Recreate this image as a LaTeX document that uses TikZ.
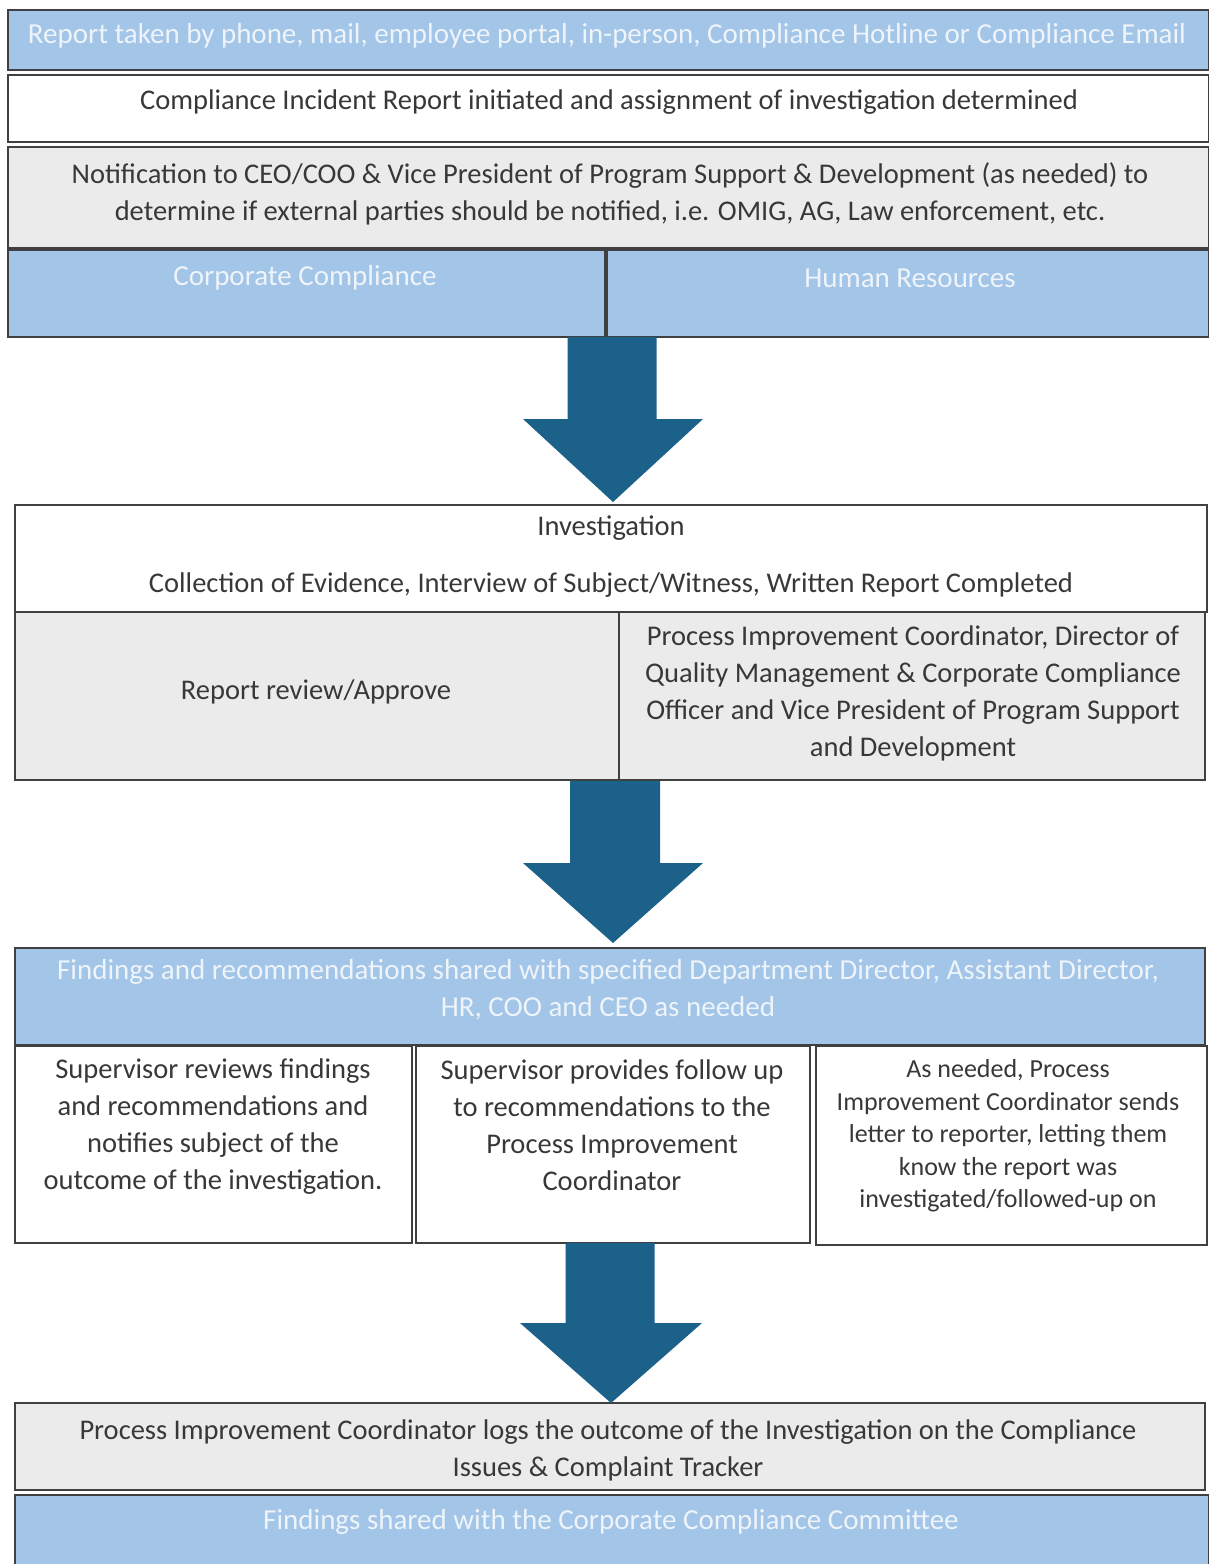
\documentclass[tikz,border=0pt]{standalone}
\usepackage{fontspec}
\setmainfont{Carlito}
\usetikzlibrary{calc}
\definecolor{bluefill}{HTML}{A2C5E8}
\definecolor{grayfill}{HTML}{EBEBEB}
\definecolor{edge}{HTML}{404040}
\definecolor{arrowc}{HTML}{1C6189}
\definecolor{txt}{HTML}{383838}
\definecolor{wtxt}{HTML}{EEF4FA}
\newcommand\blockarrow[5]{%
  \fill[arrowc] let \p1=(#1), \p2=(#2) in
    (\x1-#3,\y1) -- (\x1+#3,\y1) -- (\x1+#3,\y2+#5) -- (\x2+#4,\y2+#5) --
    (\x2,\y2) -- (\x2-#4,\y2+#5) -- (\x1-#3,\y2+#5) -- cycle;}
\begin{document}
\begin{tikzpicture}[x=1pt,y=-1pt,
  box/.style={draw=edge, line width=2pt, anchor=north west, inner sep=0pt, outer sep=0pt},
  bluebox/.style={box, fill=bluefill},
  graybox/.style={box, fill=grayfill},
  whitebox/.style={box, fill=white},
  txtdark/.style={align=center, text=txt, inner sep=0pt, font=\fontsize{28.5}{37}\selectfont},
  txtlight/.style={align=center, text=wtxt, inner sep=0pt, font=\fontsize{29}{37}\selectfont},
  txtsmall/.style={align=center, text=txt, inner sep=0pt, font=\fontsize{26}{32.5}\selectfont},
]
\useasboundingbox (0,0) rectangle (1209,1564);
\fill[white] (0,0) rectangle (1209,1564);

% boxes
\node[bluebox, minimum width=1201pt, minimum height=60pt] (b1) at (8,10) {};
\node[whitebox, minimum width=1201pt, minimum height=67pt] (b2) at (8,75) {};
\node[graybox, minimum width=1201pt, minimum height=101pt] (b3) at (8,147) {};
\node[bluebox, minimum width=597pt, minimum height=87pt] (b4a) at (8,250) {};
\node[bluebox, minimum width=602pt, minimum height=87pt] (b4b) at (607,250) {};
\node[whitebox, minimum width=1192pt, minimum height=107pt] (b5) at (15,505) {};
\node[graybox, minimum width=604pt, minimum height=168pt] (b6a) at (15,612) {};
\node[graybox, minimum width=586pt, minimum height=168pt] (b6b) at (619,612) {};
\node[bluebox, minimum width=1190pt, minimum height=97pt] (b7) at (15,948) {};
\node[whitebox, minimum width=397pt, minimum height=197pt] (b8a) at (15,1046) {};
\node[whitebox, minimum width=394pt, minimum height=197pt] (b8b) at (416,1046) {};
\node[whitebox, minimum width=391pt, minimum height=199pt] (b8c) at (816,1046) {};
\node[graybox, minimum width=1190pt, minimum height=87pt] (b9) at (15,1403) {};
\node[bluebox, minimum width=1194pt, minimum height=75pt] (b10) at (15,1495) {};

% texts
\node[txtlight] (t1) at (607,36) {Report taken by phone, mail, employee portal, in-person, Compliance Hotline or Compliance Email};
\node[txtdark] (t2) at (609,102) {Compliance Incident Report initiated and assignment of investigation determined};
\node[txtdark] (t3) at (610,194) {Notification to CEO/COO \& Vice President of Program Support \& Development (as needed) to\\determine if external parties should be notified, i.e. OMIG, AG, Law enforcement, etc.};
\node[txtlight] (t4a) at (305,278) {Corporate Compliance};
\node[txtlight] (t4b) at (910,278) {Human Resources};
\node[txtdark] (t5a) at (611,528) {Investigation};
\node[txtdark] (t5b) at (611,585) {Collection of Evidence, Interview of Subject/Witness, Written Report Completed};
\node[txtdark] (t6a) at (316,692) {Report review/Approve};
\node[txtdark] (t6b) at (913,693) {Process Improvement Coordinator, Director of\\Quality Management \& Corporate Compliance\\Officer and Vice President of Program Support\\and Development};
\node[txtlight] (t7) at (608,990) {Findings and recommendations shared with specified Department Director, Assistant Director,\\HR, COO and CEO as needed};
\node[txtdark] (t8a) at (213,1127) {Supervisor reviews findings\\and recommendations and\\notifies subject of the\\outcome of the investigation.};
\node[txtdark] (t8b) at (612,1125) {Supervisor provides follow up\\to recommendations to the\\Process Improvement\\Coordinator};
\node[txtsmall] (t8c) at (1008,1136) {As needed, Process\\Improvement Coordinator sends\\letter to reporter, letting them\\know the report was\\investigated/followed-up on};
\node[txtdark] (t9) at (608,1450) {Process Improvement Coordinator logs the outcome of the Investigation on the Compliance\\Issues \& Complaint Tracker};
\node[txtlight] (t10) at (611,1522) {Findings shared with the Corporate Compliance Committee};

% block arrows
\coordinate (a1s) at (612,337);
\coordinate (a1e) at (613,502);
\coordinate (a2s) at (615,781);
\coordinate (a2e) at (613,943);
\coordinate (a3s) at (610,1243);
\coordinate (a3e) at (611,1403);
\blockarrow{a1s}{a1e}{44.5pt}{90pt}{83pt}
\blockarrow{a2s}{a2e}{45pt}{90pt}{80pt}
\blockarrow{a3s}{a3e}{44.5pt}{91pt}{80pt}
\end{tikzpicture}
\end{document}
